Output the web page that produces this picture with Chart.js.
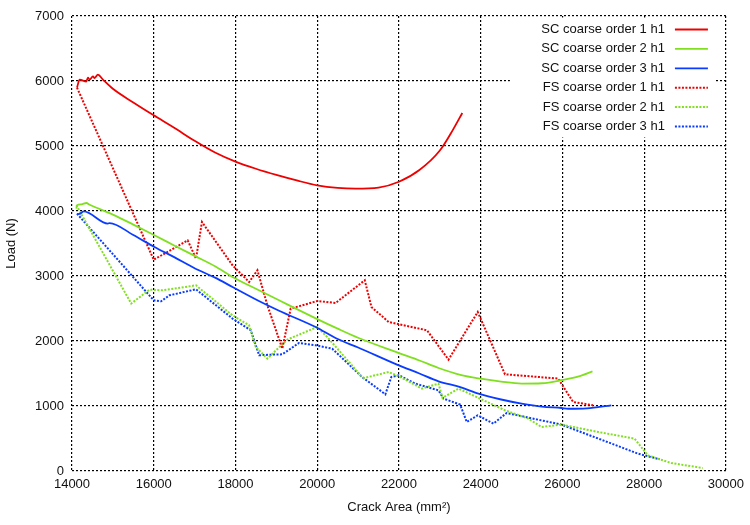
<!DOCTYPE html>
<html><head><meta charset="utf-8">
<script src="https://cdn.jsdelivr.net/npm/chart.js@4/dist/chart.umd.min.js"></script>
<style>html,body{margin:0;padding:0;background:#fff}</style>
</head><body>
<canvas id="c" width="750" height="525"></canvas>
<script>
// ---- data ----
const seriesLabels = ["SC coarse order 1 h1","SC coarse order 2 h1","SC coarse order 3 h1",
                      "FS coarse order 1 h1","FS coarse order 2 h1","FS coarse order 3 h1"];
const xTickValues = [14000,16000,18000,20000,22000,24000,26000,28000,30000];
const yTickValues = [0,1000,2000,3000,4000,5000,6000,7000];

const sc1X = [14122,14188,14351,14390,14432,14512,14553,14634,14756,15000,15500,16000,16500,17000,17500,18000,18500,19000,19500,20000,20500,20937,21500,22000,22500,23000,23330,23550];
const sc1Y = [5898,6022,5991,6052,6022,6072,6046,6098,6022,5880,5670,5472,5280,5080,4900,4760,4650,4555,4470,4395,4355,4344,4360,4450,4630,4930,5260,5508];

const sc2X = [14107,14122,14229,14351,14432,15000,15500,16017,16500,17000,17500,17927,18573,19066,19976,20500,21000,21951,22500,22968,23500,24000,24500,25000,25500,26000,26400,26735];
const sc2Y = [4037,4088,4103,4123,4097,3945,3790,3626,3470,3310,3150,2985,2780,2626,2345,2190,2050,1825,1700,1585,1480,1420,1375,1345,1350,1400,1455,1534];

const sc3X = [14122,14204,14285,14878,14920,15500,16017,16500,17000,17500,17927,18573,19066,19961,20500,21000,21951,22500,22968,23500,23944,24500,25000,25500,25976,26140,26600,27195];
const sc3Y = [3949,3960,3995,3806,3815,3630,3446,3290,3120,2975,2831,2615,2466,2215,2030,1900,1637,1500,1380,1290,1190,1100,1037,990,969,958,965,1011];

const fs1X = [14122,16000,16830,17034,17180,17927,18334,18537,18780,19146,19350,20000,20449,21163,21327,21749,22685,23212,23927,24594,25895,26261,26749];
const fs1Y = [5898,3250,3549,3268,3831,3165,2908,3088,2549,1883,2498,2615,2585,2934,2523,2292,2165,1714,2446,1488,1422,1062,1011];

const fs2X = [14107,15449,15895,16220,17034,17927,18334,18497,18780,19268,20000,20244,21097,21140,21749,22034,22561,22968,23066,23456,24594,25164,25488,25976,26878,27766,28090,28659,29431];
const fs2Y = [4088,2575,2790,2780,2857,2395,2241,1908,1729,2022,2215,2062,1446,1430,1523,1446,1268,1344,1123,1268,934,806,677,714,600,498,240,123,46];

const fs3X = [14122,16000,16180,16383,17034,17927,18375,18578,18903,19146,19553,19961,20367,21098,21667,21813,22000,22400,22968,23090,23497,23659,23927,24310,24634,25976,27844,28376];
const fs3Y = [3960,2626,2611,2703,2795,2345,2165,1780,1791,1795,1969,1934,1882,1446,1180,1446,1472,1344,1241,1114,1022,754,857,729,892,714,268,181];

// ---- styling ----
const RED = "#ee0000", GREEN = "#80e020", BLUE = "#0a3cff";
const FONT = "'Liberation Sans', Arial, Helvetica, sans-serif";
const pts = (xs, ys) => xs.map((x, i) => ({x: x, y: ys[i]}));
const mk = (label, xs, ys, color, dotted) => ({
  label: label, data: pts(xs, ys), borderColor: color, backgroundColor: color,
  borderWidth: dotted ? 2 : 1.8, borderDash: dotted ? [2, 1.5] : [],
  pointRadius: 0, tension: 0, fill: false,
  cubicInterpolationMode: dotted ? 'default' : 'monotone'
});

const keyPlugin = {
  id: 'keybox',
  beforeDatasetsDraw(chart) {
    const ctx = chart.ctx, a = chart.chartArea;
    ctx.save();
    ctx.fillStyle = '#fff';
    ctx.fillRect(a.right - 216, a.top + 1.5, 206, 120);
    ctx.restore();
  },
  afterDatasetsDraw(chart) {
    const ctx = chart.ctx, a = chart.chartArea;
    ctx.save();
    ctx.font = "13px " + FONT;
    ctx.textAlign = 'right';
    ctx.textBaseline = 'middle';
    chart.data.datasets.forEach((ds, i) => {
      const y = a.top + 13.5 + i * 19.4;
      ctx.fillStyle = '#111';
      ctx.fillText(ds.label, a.right - 61, y);
      ctx.strokeStyle = ds.borderColor;
      ctx.lineWidth = ds.borderWidth;
      ctx.setLineDash(ds.borderDash);
      ctx.beginPath();
      ctx.moveTo(a.right - 51, y);
      ctx.lineTo(a.right - 18, y);
      ctx.stroke();
    });
    ctx.restore();
  }
};

new Chart(document.getElementById('c'), {
  type: 'line',
  data: {
    datasets: [
      mk(seriesLabels[0], sc1X, sc1Y, RED, false),
      mk(seriesLabels[1], sc2X, sc2Y, GREEN, false),
      mk(seriesLabels[2], sc3X, sc3Y, BLUE, false),
      mk(seriesLabels[3], fs1X, fs1Y, RED, true),
      mk(seriesLabels[4], fs2X, fs2Y, GREEN, true),
      mk(seriesLabels[5], fs3X, fs3Y, BLUE, true)
    ]
  },
  options: {
    responsive: false,
    animation: false,
    layout: { padding: { left: 0, right: 21, top: 16, bottom: 0 } },
    plugins: { legend: { display: false }, tooltip: { enabled: false } },
    scales: {
      x: {
        type: 'linear', min: 14000, max: 30000,
        afterBuildTicks: s => { s.ticks = xTickValues.map(v => ({value: v})); },
        afterFit: s => { s.height = 54; },
        ticks: { color: '#111', font: { family: FONT, size: 13 }, padding: 6, maxRotation: 0,
                 callback: v => String(v) },
        grid: { color: '#000', lineWidth: 1.2, drawTicks: false },
        border: { display: false, dash: [2, 2] },
        title: { display: true, text: 'Crack Area (mm²)', color: '#111',
                 font: { family: FONT, size: 13 }, padding: { top: 4, bottom: 10 } }
      },
      y: {
        type: 'linear', min: 0, max: 7000,
        afterBuildTicks: s => { s.ticks = yTickValues.map(v => ({value: v})); },
        afterFit: s => { s.width = 72; },
        ticks: { color: '#111', font: { family: FONT, size: 13 }, padding: 8,
                 callback: v => String(v) },
        grid: { color: '#000', lineWidth: 1.2, drawTicks: false },
        border: { display: false, dash: [2, 2] },
        title: { display: true, text: 'Load (N)', color: '#111',
                 font: { family: FONT, size: 13 }, padding: { top: 4, bottom: 4 } }
      }
    }
  },
  plugins: [keyPlugin]
});
</script>
</body></html>
